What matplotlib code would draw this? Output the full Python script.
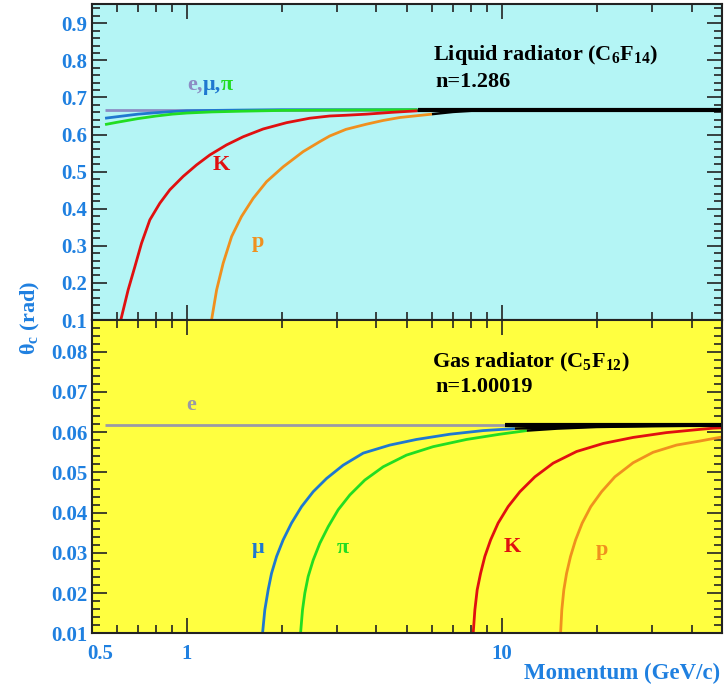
import numpy as np
import matplotlib.pyplot as plt
import matplotlib.transforms as mtransforms
from matplotlib.ticker import FixedLocator, NullFormatter

plt.rcParams['font.family'] = ['Liberation Serif', 'DejaVu Serif']
plt.rcParams['font.weight'] = 'bold'
plt.rcParams['mathtext.fontset'] = 'custom'
plt.rcParams['mathtext.rm'] = 'Liberation Serif:bold'
plt.rcParams['mathtext.it'] = 'Liberation Serif:bold'
plt.rcParams['mathtext.bf'] = 'Liberation Serif:bold'

# Liquid radiator (C6F14), angle in rad vs momentum in GeV/c
liq_e_p = [0.55, 5.4, 50]
liq_e_th = [0.667, 0.667, 0.667]
liq_mu_p = [0.55, 0.6, 0.7, 0.8, 0.9, 1.0, 1.2, 1.5, 2.0, 3.0, 5.4, 50]
liq_mu_th = [0.644, 0.648, 0.655, 0.659, 0.662, 0.664, 0.665, 0.666, 0.667, 0.667, 0.667, 0.667]
liq_pi_p = [0.55, 0.6, 0.7, 0.8, 0.9, 1.0, 1.2, 1.5, 2.0, 3.0, 5.4, 50]
liq_pi_th = [0.627, 0.633, 0.643, 0.650, 0.655, 0.658, 0.661, 0.663, 0.665, 0.666, 0.667, 0.667]
liq_k_p = [0.617, 0.651, 0.684, 0.718, 0.763, 0.821, 0.883, 0.973, 1.073, 1.183, 1.336,
           1.509, 1.747, 2.073, 2.455, 2.84, 3.2, 3.72, 4.5, 5.4, 7.0, 10, 50]
liq_k_th = [0.100, 0.181, 0.244, 0.307, 0.370, 0.415, 0.451, 0.487, 0.518, 0.545, 0.572,
            0.594, 0.615, 0.632, 0.644, 0.650, 0.652, 0.655, 0.660, 0.664, 0.666, 0.667, 0.667]
liq_p_p = [1.198, 1.243, 1.304, 1.387, 1.491, 1.624, 1.791, 2.022, 2.34, 2.644, 2.84,
           3.2, 3.72, 4.2, 4.75, 6.0, 7.0, 8.3, 10, 15, 50]
liq_p_th = [0.100, 0.181, 0.253, 0.325, 0.379, 0.428, 0.473, 0.513, 0.554, 0.581, 0.596,
            0.614, 0.628, 0.638, 0.646, 0.655, 0.661, 0.665, 0.666, 0.667, 0.667]
liq_black_from = [5.4, 5.4, 5.4, 5.4, 6.0]   # e, mu, pi, K, p

# Gas radiator (C5F12)
gas_e_p = [0.55, 10.2, 50]
gas_e_th = [0.0617, 0.0617, 0.0617]
gas_mu_p = [1.739, 1.768, 1.812, 1.857, 1.927, 2.021, 2.149, 2.313, 2.518, 2.777, 3.135,
            3.63, 4.41, 5.36, 6.84, 8.72, 11.0, 15, 20, 30, 50]
gas_mu_th = [0.0100, 0.0158, 0.0208, 0.0249, 0.0291, 0.0332, 0.0374, 0.0415, 0.0452, 0.0485,
             0.0518, 0.0548, 0.0568, 0.0582, 0.0595, 0.0604, 0.0609, 0.0612, 0.0614, 0.0616, 0.0617]
gas_pi_p = [2.296, 2.329, 2.369, 2.427, 2.518, 2.644, 2.81, 3.022, 3.292, 3.673, 4.20,
            4.98, 6.05, 7.73, 9.86, 12.0, 15, 20, 30, 50]
gas_pi_th = [0.0100, 0.0158, 0.0200, 0.0241, 0.0282, 0.0324, 0.0365, 0.0407, 0.0444, 0.0481,
             0.0514, 0.0543, 0.0564, 0.0582, 0.0595, 0.0604, 0.0609, 0.0613, 0.0615, 0.0617]
gas_k_p = [8.11, 8.21, 8.35, 8.56, 8.83, 9.21, 9.73, 10.47, 11.41, 12.73, 14.55, 17.27,
           20.98, 26.1, 33.3, 42.5, 46.9, 50]
gas_k_th = [0.0100, 0.0158, 0.0208, 0.0249, 0.0291, 0.0332, 0.0374, 0.0415, 0.0452, 0.0489,
            0.0523, 0.0552, 0.0572, 0.0587, 0.0599, 0.0607, 0.0610, 0.0611]
gas_p_p = [15.36, 15.50, 15.73, 16.05, 16.52, 17.14, 17.99, 19.16, 20.73, 22.84, 26.1,
           30.2, 35.85, 42.5, 47.5, 50]
gas_p_th = [0.0100, 0.0158, 0.0208, 0.0249, 0.0291, 0.0332, 0.0374, 0.0415, 0.0452, 0.0489,
            0.0524, 0.0550, 0.0568, 0.0578, 0.0585, 0.0588]
gas_black_from = [10.2, 11.0, 12.0, None, None]

x_ticks = [0.5, 1, 10]
x_ticklabels = ['0.5', '1', '10']
liq_yticks = [0.1, 0.2, 0.3, 0.4, 0.5, 0.6, 0.7, 0.8, 0.9]
gas_yticks = [0.01, 0.02, 0.03, 0.04, 0.05, 0.06, 0.07, 0.08]

BLUE = '#1f80e0'
COLORS = ['#8c8cc4', '#1f78d0', '#22dd22', '#e01010', '#f0901e']
GAS_E = '#9a9aa6'
FS = 16


def draw_curves(ax, curves, cuts, colors):
    # coloured part first, black continuation drawn on top
    for (p, th), c, cut in zip(curves, colors, cuts):
        p = np.array(p); th = np.array(th)
        m = p <= cut if cut is not None else np.ones(len(p), bool)
        ax.plot(p[m], th[m], color=c, lw=2.0, solid_capstyle='butt')
    for i, ((p, th), cut) in enumerate(zip(curves, cuts)):
        if cut is None:
            continue
        p = np.array(p); th = np.array(th)
        m = p >= cut
        ax.plot(p[m], th[m], color='black', lw=3.0 if i == 0 else 1.8,
                solid_capstyle='butt')


def style_axis(ax, yticks, fmt):
    ax.set_xscale('log')
    ax.set_xlim(0.5, 50)
    ax.xaxis.set_major_locator(FixedLocator(x_ticks))
    ax.xaxis.set_minor_locator(FixedLocator(
        [0.6, 0.7, 0.8, 0.9, 2, 3, 4, 5, 6, 7, 8, 9, 20, 30, 40, 50]))
    ax.xaxis.set_minor_formatter(NullFormatter())
    ax.yaxis.set_major_locator(FixedLocator(yticks))
    ax.set_yticklabels([fmt % v for v in yticks])
    ax.tick_params(which='both', direction='in', top=True, right=True,
                   colors='#222222', labelcolor=BLUE, labelsize=15, width=1.2)
    ax.tick_params(which='major', length=11)
    ax.tick_params(which='minor', length=6)
    for s in ax.spines.values():
        s.set_linewidth(1.5)
        s.set_color('#222222')


fig = plt.figure(figsize=(7.28, 6.87), dpi=100)
ax1 = fig.add_axes([0.1264, 0.5342, 0.8654, 0.4600])
ax2 = fig.add_axes([0.1264, 0.0782, 0.8654, 0.4560])

# liquid panel
ax1.set_facecolor('#b4f5f5')
liq = [(liq_e_p, liq_e_th), (liq_mu_p, liq_mu_th), (liq_pi_p, liq_pi_th),
       (liq_k_p, liq_k_th), (liq_p_p, liq_p_th)]
draw_curves(ax1, liq, liq_black_from, COLORS)
style_axis(ax1, liq_yticks, '%.1f')
ax1.set_ylim(0.1, 0.952)
ax1.yaxis.set_minor_locator(FixedLocator(np.arange(0.1, 0.96, 0.02)))
ax1.set_xticklabels([])

ax1.text(6.04, 0.815, 'Liquid radiator (C$_6$F$_{14}$)', fontsize=FS,
         va='center', ha='left')
ax1.text(6.17, 0.742, 'n=1.286', fontsize=FS, va='center', ha='left')
t = ax1.text(1.0, 0.734, 'e,', color=COLORS[0], fontsize=FS, va='center')
t = ax1.annotate('μ,', xy=(1, 0), xycoords=t, color=COLORS[1], fontsize=FS,
                 va='bottom', ha='left')
ax1.annotate('π', xy=(1, 0), xycoords=t, color=COLORS[2], fontsize=FS,
             va='bottom', ha='left')
ax1.text(1.29, 0.518, 'K', color=COLORS[3], fontsize=FS, ha='center', va='center')
ax1.text(1.68, 0.311, 'p', color=COLORS[4], fontsize=FS, ha='center', va='center')

# gas panel
ax2.set_facecolor('#ffff40')
gas = [(gas_e_p, gas_e_th), (gas_mu_p, gas_mu_th), (gas_pi_p, gas_pi_th),
       (gas_k_p, gas_k_th), (gas_p_p, gas_p_th)]
draw_curves(ax2, gas, gas_black_from, [GAS_E] + COLORS[1:])
style_axis(ax2, gas_yticks, '%.2f')
ax2.set_ylim(0.01, 0.0879)
ax2.yaxis.set_minor_locator(FixedLocator(np.arange(0.01, 0.088, 0.002)))
ax2.set_xticklabels(x_ticklabels)
ax2.tick_params(axis='x', pad=8)
# the 0.5 label sits a little right of the axis edge
first = ax2.get_xticklabels()[0]
first.set_transform(first.get_transform() +
                    mtransforms.ScaledTranslation(8 / 100, 0, fig.dpi_scale_trans))

ax2.text(6.02, 0.0773, 'Gas radiator (C$_5$F$_{12}$)', fontsize=FS,
         va='center', ha='left')
ax2.text(6.17, 0.0713, 'n=1.00019', fontsize=FS, va='center', ha='left')
ax2.text(1.035, 0.0668, 'e', color=GAS_E, fontsize=FS, ha='center', va='center')
ax2.text(1.68, 0.0312, 'μ', color=COLORS[1], fontsize=FS, ha='center', va='center')
ax2.text(3.13, 0.0312, 'π', color=COLORS[2], fontsize=FS, ha='center', va='center')
ax2.text(10.77, 0.0315, 'K', color=COLORS[3], fontsize=FS, ha='center', va='center')
ax2.text(20.8, 0.0307, 'p', color=COLORS[4], fontsize=FS, ha='center', va='center')

fig.text(720 / 728, 1 - 673 / 687, 'Momentum (GeV/c)', color=BLUE,
         fontsize=16.5, ha='right', va='center')
fig.text(30 / 728, 1 - 318 / 687, r'θ$_\mathrm{c}$ (rad)', color=BLUE,
         fontsize=16, rotation=90, ha='center', va='center')

fig.savefig('out.png', dpi=100)
